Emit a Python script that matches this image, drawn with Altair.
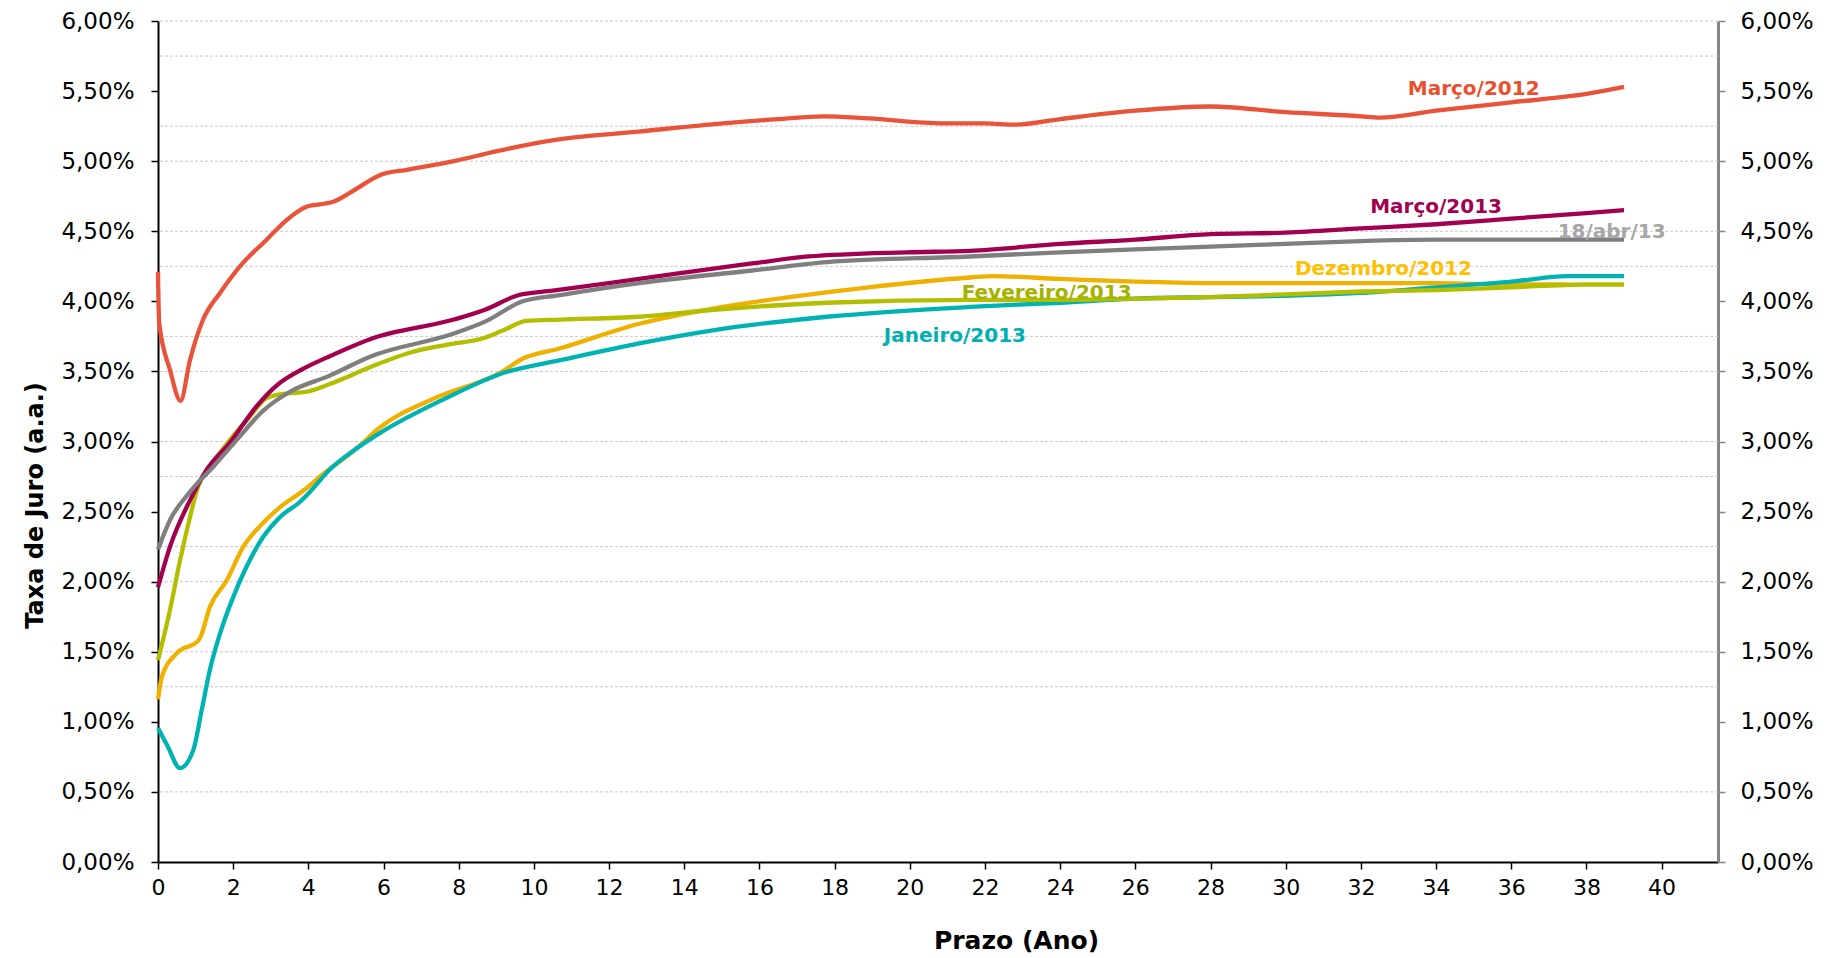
import altair as alt
import pandas as pd

FONT = "DejaVu Sans"

# ---- series (t = prazo em anos, r = taxa em %) ----
t_dez12 = [0, 0.1, 0.5, 1.07, 1.12, 1.38, 1.83, 2.27, 2.8, 3.24, 3.87, 4.4, 5.28, 5.9, 7.37, 9.1, 9.7, 10.7,
           12.8, 14.8, 16.8, 18.9, 21.6, 22.2, 24, 26, 28, 30, 32, 34, 36, 37.5]
r_dez12 = [1.16, 1.32, 1.49, 1.58, 1.60, 1.82, 2.01, 2.25, 2.42, 2.53, 2.65, 2.77, 2.95, 3.10, 3.31, 3.49, 3.59, 3.665,
           3.84, 3.95, 4.03, 4.10, 4.17, 4.18, 4.16, 4.14, 4.13, 4.13, 4.13, 4.13, 4.12, 4.12]

t_jan13 = [0, 0.25, 0.585, 0.94, 1.16, 1.38, 1.65, 2.0, 2.36, 2.8, 3.24, 3.78, 4.04, 4.57, 5.28, 5.9, 7.67, 9.2,
           10.7, 12.8, 14.8, 17.8, 21.6, 24, 26, 28, 30, 32, 34, 36, 37.5, 39]
r_jan13 = [0.955, 0.83, 0.67, 0.80, 1.08, 1.37, 1.63, 1.89, 2.11, 2.32, 2.46, 2.57, 2.64, 2.80, 2.95, 3.06, 3.31, 3.49,
           3.58, 3.70, 3.795, 3.89, 3.96, 3.99, 4.02, 4.03, 4.04, 4.06, 4.10, 4.14, 4.18, 4.18]

t_fev13 = [0, 0.32, 0.585, 0.85, 1.07, 1.38, 1.91, 2.45, 2.89, 3.33, 3.95, 4.57, 5.64, 6.65, 7.67, 8.7, 9.2, 9.8,
           10.7, 12.8, 14.8, 17.8, 21.6, 24, 26, 28, 30, 32, 34, 36, 38, 39]
r_fev13 = [1.44, 1.80, 2.15, 2.46, 2.68, 2.82, 3.01, 3.18, 3.31, 3.34, 3.355, 3.41, 3.53, 3.63, 3.69, 3.74, 3.795, 3.86,
           3.87, 3.89, 3.94, 3.99, 4.01, 4.01, 4.02, 4.03, 4.05, 4.07, 4.08, 4.10, 4.12, 4.12]

t_mar13 = [0, 0.32, 0.85, 1.3, 1.91, 2.62, 3.16, 3.87, 4.5, 5.64, 7.87, 8.7, 9.6, 10.5, 12.8, 15.8, 17.3, 19.9,
           21.6, 24, 26, 28, 30, 32, 34, 36, 38, 39]
r_mar13 = [1.96, 2.25, 2.58, 2.80, 2.99, 3.25, 3.40, 3.52, 3.60, 3.73, 3.87, 3.94, 4.045, 4.076, 4.16, 4.27, 4.32, 4.35,
           4.36, 4.41, 4.44, 4.48, 4.49, 4.52, 4.55, 4.59, 4.63, 4.65]

t_abr13 = [0, 0.32, 0.85, 1.47, 2.09, 2.8, 3.51, 4.57, 5.64, 7.87, 8.7, 9.7, 10.7, 12.8, 15.8, 17.8, 21.6, 24,
           26, 28, 30, 32, 34, 36, 38, 39]
r_abr13 = [2.23, 2.44, 2.64, 2.82, 3.01, 3.22, 3.355, 3.47, 3.605, 3.77, 3.855, 4.00, 4.045, 4.13, 4.22, 4.28, 4.32, 4.35,
           4.37, 4.39, 4.41, 4.43, 4.44, 4.44, 4.44, 4.44]

t_mar12 = [0, 0.03, 0.32, 0.6, 0.85, 1.2, 1.65, 2.18, 2.89, 3.42, 3.95, 4.66, 5.2, 5.9, 6.65, 7.87, 8.99, 10.53,
           12.77, 14.8, 16.5, 17.7, 18.9, 20.9, 22.0, 22.8, 24.0, 26.0, 28.0, 30.0, 32.0, 32.5, 34.0, 36.0, 38.0, 39.0]
r_mar12 = [4.21, 3.85, 3.51, 3.29, 3.58, 3.87, 4.06, 4.25, 4.44, 4.58, 4.675, 4.71, 4.79, 4.90, 4.94, 5.00, 5.07, 5.15,
           5.21, 5.265, 5.30, 5.32, 5.305, 5.27, 5.27, 5.26, 5.30, 5.36, 5.39, 5.35, 5.32, 5.31, 5.36, 5.42, 5.48, 5.53]

series_names = ["Dezembro/2012", "Janeiro/2013", "Fevereiro/2013", "Março/2013", "18/abr/13", "Março/2012"]
series_colors = ["#F0B000", "#00B3B3", "#B4BE00", "#A2004F", "#7F7F7F", "#E8533A"]
series_t = [t_dez12, t_jan13, t_fev13, t_mar13, t_abr13, t_mar12]
series_r = [r_dez12, r_jan13, r_fev13, r_mar13, r_abr13, r_mar12]

# ---- labels ----
label_text = ["Março/2012", "Março/2013", "18/abr/13", "Dezembro/2012", "Fevereiro/2013", "Janeiro/2013"]
label_t = [35.0, 34.0, 38.67, 32.6, 23.64, 21.2]
label_r = [5.472, 4.63, 4.45, 4.19, 4.02, 3.71]
label_colors = ["#E8502E", "#A0004E", "#A6A6A6", "#FFC000", "#A5B300", "#00AFAF"]

# ---- axes ----
y_ticks = [0, 0.5, 1, 1.5, 2, 2.5, 3, 3.5, 4, 4.5, 5, 5.5, 6]
x_ticks = list(range(0, 41, 2))
grid_values = [6.00, 5.75, 5.25, 5.00, 4.50, 4.25, 3.75, 3.50, 3.00, 2.75, 2.25, 2.00, 1.50, 1.25, 0.50]

rows = []
for name, col, ts, rs in zip(series_names, series_colors, series_t, series_r):
    for t, r in zip(ts, rs):
        rows.append({"serie": name, "cor": col, "t": t, "r": r})
df_lines = pd.DataFrame(rows)
df_labels = pd.DataFrame({"txt": label_text, "t": label_t, "r": label_r, "cor": label_colors})
df_grid = pd.DataFrame({"g": grid_values})

yscale = alt.Scale(domain=[0, 6], nice=False, zero=False)
xscale = alt.Scale(domain=[0, 41.5], nice=False, zero=False)
label_expr = "replace(format(datum.value, '.2f'), '.', ',') + '%'"

x_axis = alt.Axis(values=x_ticks, format="d", title="Prazo (Ano)", grid=False,
                  domainColor="black", domainWidth=2, tickColor="black", tickSize=7, tickWidth=1.5,
                  labelFont=FONT, labelFontSize=22, labelColor="black", labelPadding=8, labelFlush=False,
                  titleFont=FONT, titleFontSize=25, titleFontWeight="bold", titleColor="black",
                  titleX=858, titleY=86, titleAlign="center", titleBaseline="alphabetic")

left_axis = alt.Axis(orient="left", values=y_ticks, labelExpr=label_expr, title="Taxa de Juro (a.a.)", grid=False,
                     domainColor="black", domainWidth=2, tickColor="black", tickSize=7, tickWidth=1.5,
                     labelFont=FONT, labelFontSize=23, labelColor="black", labelPadding=17,
                     titleFont=FONT, titleFontSize=24, titleFontWeight="bold", titleColor="black",
                     titleAngle=270, titleX=-116, titleY=484, titleAlign="center", titleBaseline="alphabetic")

right_axis = alt.Axis(orient="right", values=y_ticks, labelExpr=label_expr, title=None, grid=False,
                      domainColor="#868686", domainWidth=3, tickColor="#868686", tickSize=7, tickWidth=1.5,
                      labelFont=FONT, labelFontSize=23, labelColor="black", labelPadding=15)

grid = alt.Chart(df_grid).mark_rule(color="#C8C8C8", strokeWidth=1, strokeDash=[3, 2]).encode(
    y=alt.Y("g:Q", scale=yscale, axis=right_axis)
)

lines = alt.Chart(df_lines).mark_line(strokeWidth=4.3, interpolate="monotone").encode(
    x=alt.X("t:Q", scale=xscale, axis=x_axis),
    y=alt.Y("r:Q", scale=yscale, axis=left_axis),
    color=alt.Color("cor:N", scale=None),
    detail="serie:N",
    order=alt.Order("t:Q"),
)

labels = alt.Chart(df_labels).mark_text(font=FONT, fontSize=20, fontWeight="bold", align="center",
                                        baseline="alphabetic").encode(
    x=alt.X("t:Q", scale=xscale, axis=x_axis),
    y=alt.Y("r:Q", scale=yscale, axis=None),
    text="txt:N",
    color=alt.Color("cor:N", scale=None),
)

chart = alt.layer(grid, lines, labels).resolve_scale(y="independent").properties(
    width=1560, height=841,
    autosize=alt.AutoSizeParams(type="none"),
    padding={"left": 150, "top": 13, "right": 113, "bottom": 100},
    background="white",
).configure_view(stroke=None)

chart.save("out.html", embed_options={"renderer": "svg", "actions": False})
